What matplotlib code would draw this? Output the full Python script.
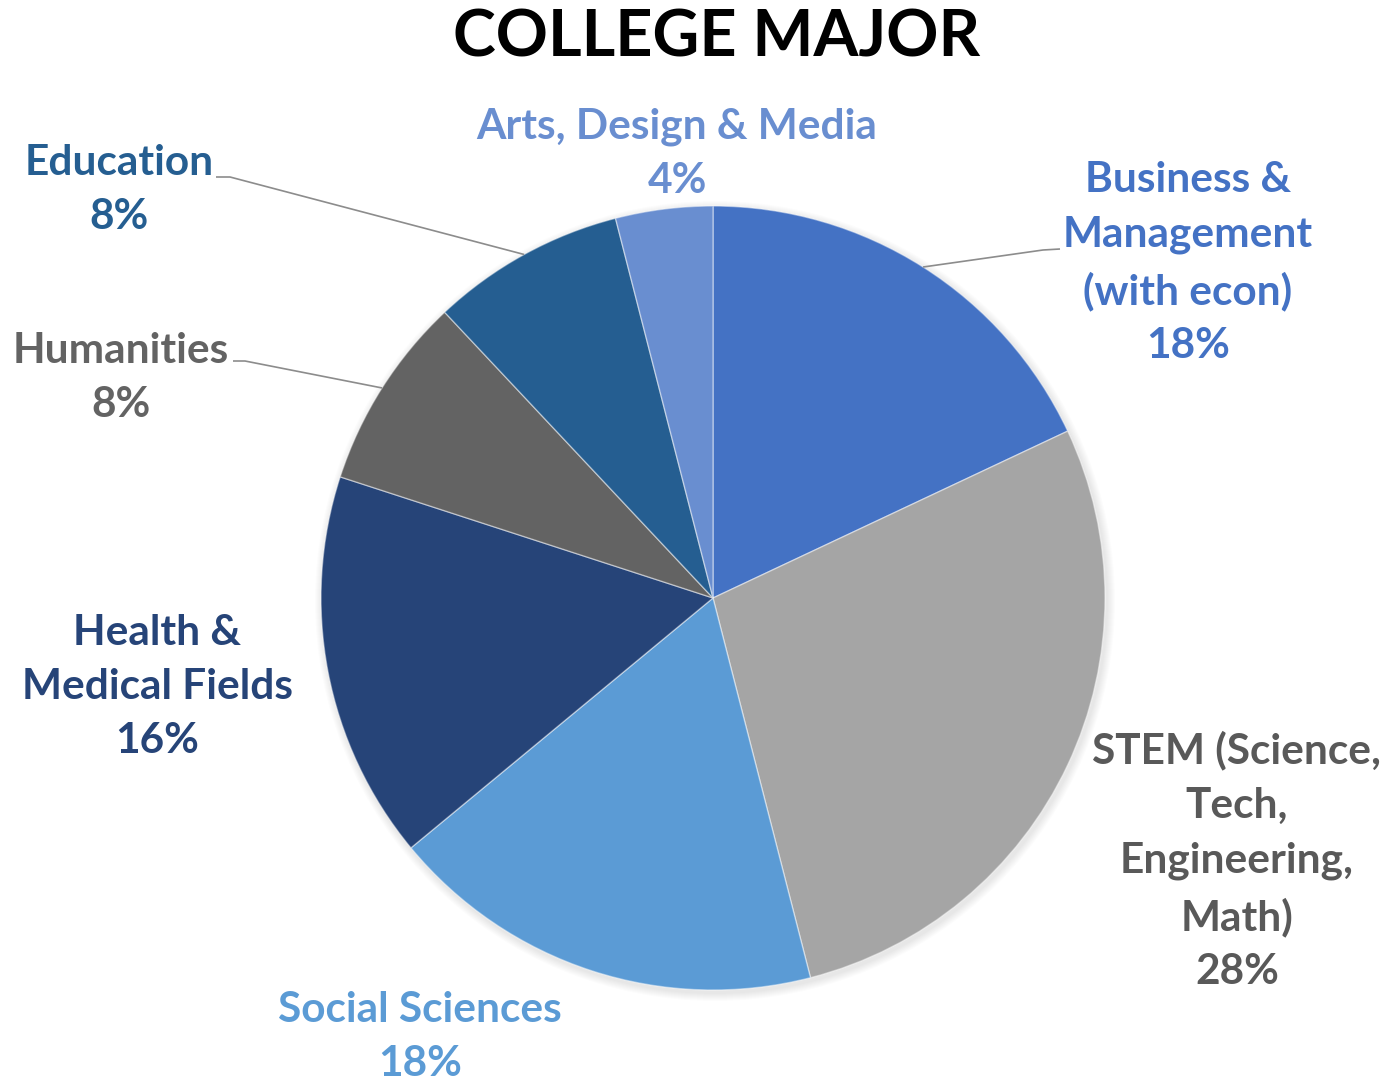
import numpy as np
import matplotlib.pyplot as plt
from matplotlib.patches import Circle

plt.rcParams['font.family'] = ['Lato', 'DejaVu Sans']

majors = ['Business &\nManagement\n(with econ)',
          'STEM (Science,\nTech,\nEngineering,\nMath)',
          'Social Sciences',
          'Health &\nMedical Fields',
          'Humanities',
          'Education',
          'Arts, Design & Media']
shares = [18, 28, 18, 16, 8, 8, 4]
slice_colors = ['#4472C4', '#A5A5A5', '#5B9BD5', '#264478', '#636363', '#255E91', '#698ED0']
label_colors = ['#4472C4', '#595959', '#5B9BD5', '#264478', '#636363', '#255E91', '#698ED0']

W, H = 1384, 1082
cx, cy, r = 713, H - 598, 392

# label centres (pixels from top-left) and optional leader elbows
label_pos = [(1188, 263), (1237, 861), (420, 1037), (157, 687),
             (121, 378), (119, 190), (677, 154)]
leader_elbow = {0: [(1060, 249), (1043, 250)],
                4: [(233, 361), (245, 361)],
                5: [(216, 177), (230, 177)]}

fig = plt.figure(figsize=(W / 100, H / 100), dpi=100)
ax = fig.add_axes([0, 0, 1, 1])

# soft shadow around the pie
for k in range(1, 9):
    ax.add_patch(Circle((cx + 2, cy - 3), r + k, color='#000000', alpha=0.012, lw=0, zorder=0))

ax.pie(shares, colors=slice_colors, startangle=90, counterclock=False,
       center=(cx, cy), radius=r,
       wedgeprops=dict(edgecolor=(1, 1, 1, 0.45), linewidth=1.0))

cum = 0
for i, (name, s) in enumerate(zip(majors, shares)):
    mid = np.deg2rad(90 - 360 * (cum + s / 2) / 100)
    cum += s
    lx, ly = label_pos[i]
    ax.text(lx, H - ly, f'{name}\n{s}%', ha='center', va='center', multialignment='center',
            fontsize=30.5, fontweight='bold', color=label_colors[i], linespacing=1.53)
    if i in leader_elbow:
        pts = [(x, H - y) for x, y in leader_elbow[i]]
        pts.append((cx + r * np.cos(mid), cy + r * np.sin(mid)))
        xs, ys = zip(*pts)
        ax.plot(xs, ys, color='#8C8C8C', lw=1.2, solid_capstyle='butt')

ax.text(717, H - 38, 'COLLEGE MAJOR', ha='center', va='center',
        fontsize=46.5, fontweight='bold', color='black')

ax.set_xlim(0, W)
ax.set_ylim(0, H)
ax.set_aspect('equal')
ax.axis('off')

fig.savefig('out.png', dpi=100, facecolor='white')
